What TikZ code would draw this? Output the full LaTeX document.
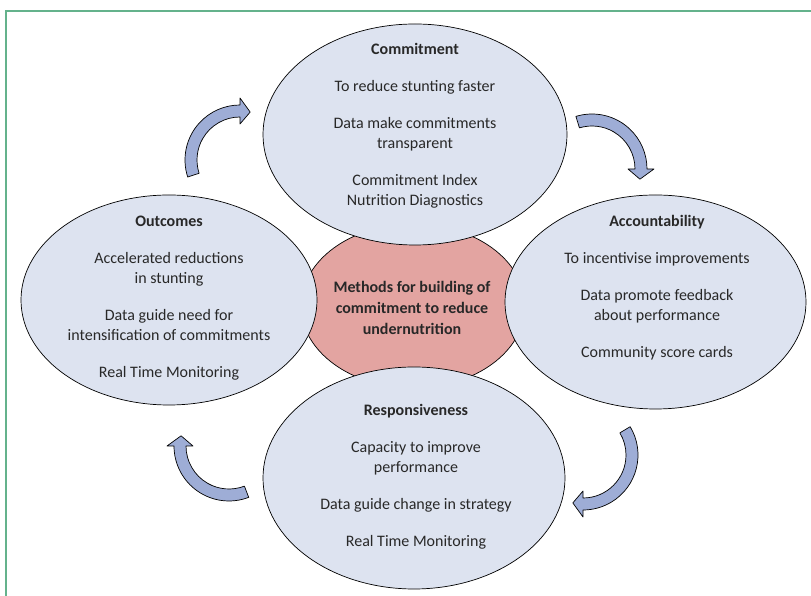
\documentclass[tikz,border=0pt]{standalone}
\usepackage{fontspec}
\setmainfont{Carlito}
\usetikzlibrary{shapes.geometric}
\definecolor{fundo}{RGB}{221,227,240}
\definecolor{centro}{RGB}{227,164,161}
\definecolor{seta}{RGB}{158,173,214}
\definecolor{moldura}{RGB}{100,178,140}
\definecolor{escrita}{RGB}{40,40,40}
% seta curva: centro, angulo inicial, angulo final, angulo da ponta
\newcommand{\setacurva}[4]{%
  \draw[seta curva] ([shift={#1}]#2:55) arc[start angle=#2, end angle=#3, radius=55]
    -- ([shift={#1}]#3:62) -- ([shift={#1}]#4:49) -- ([shift={#1}]#3:36)
    -- ([shift={#1}]#3:43) arc[start angle=#3, end angle=#2, radius=43] -- cycle;}
\begin{document}
\begin{tikzpicture}[x=1pt, y=1pt,
    fase/.style={ellipse, draw=black, line width=0.7pt, fill=fundo, inner sep=0pt},
    texto fase/.style={align=center, text=escrita, font=\fontsize{16}{20}\selectfont},
    seta curva/.style={draw=black, line width=0.7pt, fill=seta, line join=round}]
    \useasboundingbox (0,0) rectangle (811,596);
    % Desenhando a moldura
    \draw[moldura, line width=1.5pt] (6,0) -- (6,585) -- (811,585);
    % Desenhando a elipse central
    \node[fase, fill=centro, minimum width=224, minimum height=164] (mt) at (413,290) {};
    % Desenhando as quatro elipses
    \node[fase, minimum width=304, minimum height=221] (cm) at (415,461.5) {};
    \node[fase, minimum width=296, minimum height=210] (oc) at (169,296) {};
    \node[fase, minimum width=301, minimum height=214] (ac) at (655.5,294) {};
    \node[fase, minimum width=302, minimum height=222] (rs) at (414,118) {};
    % Escrevendo os textos
    \node[texto fase] (cm-t) at (415,470) {\textbf{Commitment}\\[17pt]
        To reduce stunting faster\\[17pt]
        Data make commitments\\ transparent\\[17pt]
        Commitment Index\\ Nutrition Diagnostics};
    \node[texto fase] (oc-t) at (169,297.5) {\textbf{Outcomes}\\[17pt]
        Accelerated reductions\\ in stunting\\[17pt]
        Data guide need for\\ intensification of commitments\\[17pt]
        Real Time Monitoring};
    \node[texto fase] (ac-t) at (657,308) {\textbf{Accountability}\\[17pt]
        To incentivise improvements\\[17pt]
        Data promote feedback\\ about performance\\[17pt]
        Community score cards};
    \node[texto fase] (rs-t) at (416,119) {\textbf{Responsiveness}\\[17pt]
        Capacity to improve\\ performance\\[17pt]
        Data guide change in strategy\\[17pt]
        Real Time Monitoring};
    \node[texto fase, font=\bfseries\fontsize{16}{21}\selectfont] (mt-t) at (412,288)
        {Methods for building of\\ commitment to reduce\\ undernutrition};
    % Inserindo as setas
    \setacurva{(240,436)}{198}{90}{78}
    \setacurva{(592,427)}{107}{0}{-12}
    \setacurva{(583,141)}{31}{-90}{-102}
    \setacurva{(229,150)}{291}{180}{168}
\end{tikzpicture}
\end{document}
